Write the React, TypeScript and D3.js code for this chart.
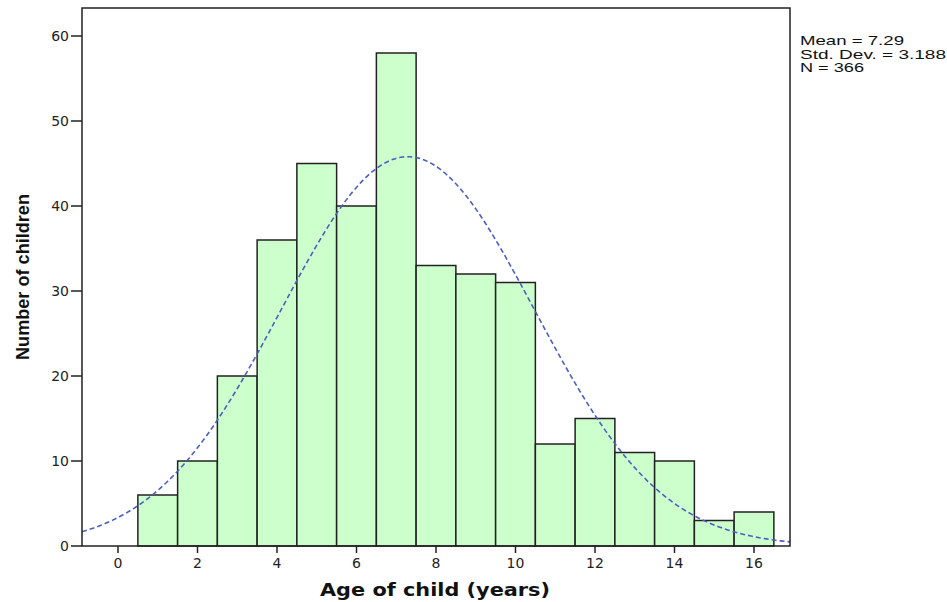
import React from "react";
import * as d3 from "d3";

const ages = [1, 2, 3, 4, 5, 6, 7, 8, 9, 10, 11, 12, 13, 14, 15, 16];
const counts = [6, 10, 20, 36, 45, 40, 58, 33, 32, 31, 12, 15, 11, 10, 3, 4];
const xTicks = [0, 2, 4, 6, 8, 10, 12, 14, 16];
const yTicks = [0, 10, 20, 30, 40, 50, 60];
const stats = ["Mean = 7.29", "Std. Dev. = 3.188", "N = 366"];
const statWidths = [104, 146, 64];
const mean = 7.29;
const sd = 3.188;
const n = 366;

export default function App() {
  const W = 947, H = 602;
  const left = 82, right = 790, top = 8, bottom = 546;
  const x = d3.scaleLinear().domain([0, 16]).range([118, 754]);
  const xMin = x.invert(left), xMax = x.invert(right);
  const y = d3.scaleLinear().domain([0, 60]).range([bottom, 36]);

  const pts: [number, number][] = [];
  const steps = 300;
  for (let i = 0; i <= steps; i++) {
    const v = xMin + ((xMax - xMin) * i) / steps;
    const z = (v - mean) / sd;
    const dens = (n / (sd * Math.sqrt(2 * Math.PI))) * Math.exp(-0.5 * z * z);
    pts.push([x(v), y(dens)]);
  }
  const line = d3.line<[number, number]>().x(d => d[0]).y(d => d[1]);
  const tickFont = "DejaVu Sans, Verdana, sans-serif";

  return (
    <svg width={W} height={H} style={{ position: "absolute", left: 0, top: 0 }}
      fontFamily="Liberation Sans, Arial, sans-serif">
      <rect x={0} y={0} width={W} height={H} fill="#fff" />
      {ages.map((a, i) => (
        <rect key={a} x={x(a - 0.5)} y={y(counts[i])} width={x(a + 0.5) - x(a - 0.5)}
          height={bottom - y(counts[i])} fill="#ccffcc" stroke="#222" strokeWidth={1.5} />
      ))}
      <path d={line(pts) || ""} fill="none" stroke="#4a5fc4" strokeWidth={1.6} strokeDasharray="5,3" />
      <rect x={left} y={top} width={right - left} height={bottom - top} fill="none" stroke="#222" strokeWidth={1.5} />
      {yTicks.map(t => (
        <g key={t}>
          <line x1={left - 11} x2={left} y1={y(t)} y2={y(t)} stroke="#222" strokeWidth={1.5} />
          <text x={left - 13} y={y(t)} dy="0.36em" textAnchor="end" fontSize={14} fill="#222"
            fontFamily={tickFont}>{t}</text>
        </g>
      ))}
      {xTicks.map(t => (
        <g key={t}>
          <line x1={x(t)} x2={x(t)} y1={bottom} y2={bottom + 7} stroke="#222" strokeWidth={1.5} />
          <text x={x(t)} y={bottom + 22} textAnchor="middle" fontSize={14} fill="#222"
            fontFamily={tickFont}>{t}</text>
        </g>
      ))}
      <text x={435} y={596} textAnchor="middle" fontSize={18} fontWeight="bold" fill="#111"
        textLength={230} lengthAdjust="spacingAndGlyphs"
        fontFamily="DejaVu Sans, Verdana, sans-serif">Age of child (years)</text>
      <text transform={`translate(29,277) rotate(-90)`} textAnchor="middle" fontSize={18}
        fontWeight="bold" fill="#111" textLength={166} lengthAdjust="spacingAndGlyphs">Number of children</text>
      {stats.map((s, i) => (
        <text key={s} x={800} y={45 + i * 13.5} fontSize={13.5} fill="#111"
          textLength={statWidths[i]} lengthAdjust="spacingAndGlyphs">{s}</text>
      ))}
    </svg>
  );
}
